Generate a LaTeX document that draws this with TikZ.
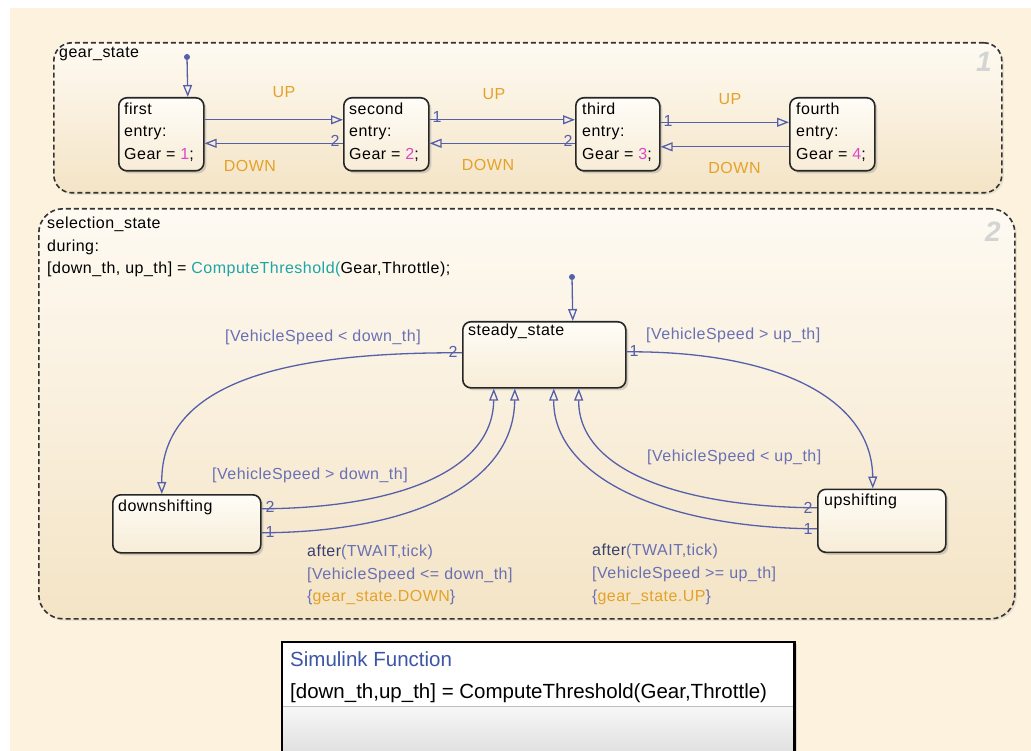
\documentclass[tikz,border=0pt]{standalone}
\usepackage{fontspec}
\setmainfont{Liberation Sans}
\newfontfamily\chf[LetterSpace=3]{Liberation Sans}
\usetikzlibrary{arrows.meta,shadows}
\definecolor{bgc}{RGB}{253,242,222}
\definecolor{trc}{RGB}{85,95,170}
\definecolor{lblc}{RGB}{105,112,180}
\definecolor{updn}{RGB}{228,162,40}
\definecolor{magc}{RGB}{222,70,200}
\definecolor{tealc}{RGB}{30,165,165}
\definecolor{afterc}{RGB}{55,65,110}
\definecolor{simblue}{RGB}{60,85,165}
\definecolor{outTop}{RGB}{254,250,242}
\definecolor{outBot}{RGB}{244,228,198}
\definecolor{stTop}{RGB}{255,253,248}
\definecolor{stBot}{RGB}{247,236,214}
\begin{document}
\begin{tikzpicture}[x=1pt,y=-1pt,
  txt/.style={inner sep=0pt, anchor=base west, font=\chf\fontsize{16}{20}\selectfont},
  ctxt/.style={txt, anchor=base},
  num/.style={inner sep=0pt, anchor=center, text=trc, font=\chf\fontsize{16}{18}\selectfont},
  bignum/.style={inner sep=0pt, anchor=base west, text=black!17, font=\fontsize{28}{30}\selectfont\bfseries\itshape},
  outer/.style={draw=black!80, dash pattern=on 5pt off 3pt, line width=1.6pt, top color=outTop, bottom color=outBot, anchor=north west, inner sep=0pt, rectangle,
    drop shadow={shadow xshift=2pt, shadow yshift=-2pt, opacity=0.15}},
  statebox/.style={draw=black!85, line width=1.6pt, rounded corners=8pt, top color=stTop, bottom color=stBot, anchor=north west, inner sep=0pt, rectangle,
    drop shadow={shadow xshift=2.5pt, shadow yshift=-2.5pt, opacity=0.3}},
  tr/.style={draw=trc, line width=1.3pt, -{Triangle[open, length=12pt, width=9pt, line width=1.3pt]}},
  dot/.style={circle, fill=trc, inner sep=0pt, minimum size=6pt}
]
\useasboundingbox (0,0) rectangle (1031,751);
\fill[white] (0,0) rectangle (1031,751);
\fill[bgc] (10,8) rectangle (1031,751);

% ---------- gear_state ----------
\node[outer, rounded corners=18pt, minimum width=948pt, minimum height=150pt] (gear) at (53,42) {};
\node[txt] (gearT) at (59,58) {gear\_state};
\node[bignum] (gearN) at (976,72) {1};

\node[statebox, minimum width=85pt, minimum height=73pt] (first) at (118,97) {};
\node[statebox, minimum width=85pt, minimum height=73pt] (second) at (343,97) {};
\node[statebox, minimum width=84pt, minimum height=73pt] (third) at (575,97) {};
\node[statebox, minimum width=85pt, minimum height=73pt] (fourth) at (789,97) {};

\node[txt] (firstA) at (124,115) {first};
\node[txt] (firstB) at (124,137) {entry:};
\node[txt] (firstC) at (124,160) {Gear = {\color{magc}1};};
\node[txt] (secondA) at (349,115) {second};
\node[txt] (secondB) at (349,137) {entry:};
\node[txt] (secondC) at (349,160) {Gear = {\color{magc}2};};
\node[txt] (thirdA) at (582,115) {third};
\node[txt] (thirdB) at (582,137) {entry:};
\node[txt] (thirdC) at (582,160) {Gear = {\color{magc}3};};
\node[txt] (fourthA) at (796,115) {fourth};
\node[txt] (fourthB) at (796,137) {entry:};
\node[txt] (fourthC) at (796,160) {Gear = {\color{magc}4};};

\node[dot] (gInit) at (187,57) {};
\draw[tr] (gInit) -- ([xshift=26.5pt]first.north);

\draw[tr] ([yshift=14.5pt]first.east) -- ([yshift=14.5pt]second.west);
\draw[tr] ([yshift=-9pt]second.west) -- ([yshift=-9pt]first.east);
\draw[tr] ([yshift=14.5pt]second.east) -- ([yshift=14.5pt]third.west);
\draw[tr] ([yshift=-9pt]third.west) -- ([yshift=-9pt]second.east);
\draw[tr] ([yshift=12pt]third.east) -- ([yshift=12pt]fourth.west);
\draw[tr] ([yshift=-12.5pt]fourth.west) -- ([yshift=-12.5pt]third.east);

\node[num] (n1) at (437,117) {1};
\node[num] (n2) at (335,141) {2};
\node[num] (n3) at (568,141) {2};
\node[num] (n4) at (668,121) {1};

\node[ctxt, text=updn] (up1) at (284,98) {UP};
\node[ctxt, text=updn] (up2) at (494,100) {UP};
\node[ctxt, text=updn] (up3) at (730,105) {UP};
\node[ctxt, text=updn] (dn1) at (250,171.5) {DOWN};
\node[ctxt, text=updn] (dn2) at (488,170.5) {DOWN};
\node[ctxt, text=updn] (dn3) at (734.5,174) {DOWN};

% ---------- selection_state ----------
\node[outer, rounded corners=24pt, minimum width=976pt, minimum height=410pt] (sel) at (38,208) {};
\node[bignum] (selN) at (985,242) {2};
\node[txt] (selA) at (47,229) {selection\_state};
\node[txt] (selB) at (47,251.5) {during:};
\node[txt] (selC) at (47,274) {[down\_th, up\_th] = {\color{tealc}ComputeThreshold(}Gear,Throttle);};

\node[statebox, minimum width=163pt, minimum height=66pt] (steady) at (462,321) {};
\node[statebox, minimum width=148pt, minimum height=58pt] (down) at (112,494) {};
\node[statebox, minimum width=128pt, minimum height=63pt] (up) at (817,488.5) {};
\node[txt] (steadyT) at (468,336) {steady\_state};
\node[txt] (downT) at (118,511.5) {downshifting};
\node[txt] (upT) at (824,505) {upshifting};

\node[dot] (sInit) at (572,277) {};
\draw[tr] (sInit) -- ([xshift=28.5pt]steady.north);

\draw[tr] ([yshift=2pt]steady.west) .. controls (290,352) and (161,380) .. ([xshift=-25pt]down.north);
\draw[tr] ([yshift=3pt]steady.east) .. controls (780,351) and (872,400) .. ([xshift=-9pt]up.north);
\draw[tr] ([yshift=15pt]down.east) .. controls (400,508) and (493,470) .. ([xshift=-50.5pt]steady.south);
\draw[tr] ([yshift=-9pt]down.east) .. controls (420,532) and (514,480) .. ([xshift=-29.5pt]steady.south);
\draw[tr] ([yshift=13pt]up.west) .. controls (680,507) and (578,470) .. ([xshift=34.5pt]steady.south);
\draw[tr] ([yshift=-8pt]up.west) .. controls (660,528) and (553,475) .. ([xshift=9.5pt]steady.south);

\node[num] (m1) at (453,352) {2};
\node[num] (m2) at (634,351) {1};
\node[num] (m3) at (270,507) {2};
\node[num] (m4) at (270,532) {1};
\node[num] (m5) at (808,508) {2};
\node[num] (m6) at (808,529) {1};

\node[txt, text=lblc] (lbA) at (225,341.5) {[VehicleSpeed < down\_th]};
\node[txt, text=lblc] (lbB) at (646,340) {[VehicleSpeed > up\_th]};
\node[txt, text=lblc] (lbC) at (212,479) {[VehicleSpeed > down\_th]};
\node[txt, text=lblc] (lbD) at (647,461) {[VehicleSpeed < up\_th]};
\node[txt, text=lblc] (lbE1) at (307,556) {{\color{afterc}after}(TWAIT,tick)};
\node[txt, text=lblc] (lbE2) at (307,579) {[VehicleSpeed <= down\_th]};
\node[txt, text=lblc] (lbE3) at (307,601) {\{{\color{updn}gear\_state.DOWN}\}};
\node[txt, text=lblc] (lbF1) at (592,555.5) {{\color{afterc}after}(TWAIT,tick)};
\node[txt, text=lblc] (lbF2) at (592,578.5) {[VehicleSpeed >= up\_th]};
\node[txt, text=lblc] (lbF3) at (592,601.5) {\{{\color{updn}gear\_state.UP}\}};

% ---------- Simulink Function ----------
\node[fill=white, anchor=north west, inner sep=0pt, rectangle, minimum width=512pt, minimum height=130pt,
  drop shadow={shadow xshift=3pt, shadow yshift=-2pt, opacity=0.25}] (sim) at (282,642) {};
\fill[top color=black!3, bottom color=black!16] ([yshift=-64pt]sim.north west) rectangle (sim.south east);
\draw[black!25, line width=0.8pt] ([yshift=-64pt]sim.north west) -- ([yshift=-64pt]sim.north east);
\draw[black, line width=2.6pt] (sim.north west) rectangle (sim.south east);
\node[inner sep=0pt, anchor=base west, text=simblue, font=\fontsize{20.5}{24}\selectfont] (simA) at (290,666) {Simulink Function};
\node[inner sep=0pt, anchor=base west, font=\fontsize{20.5}{24}\selectfont] (simB) at (290,698.5) {[down\_th,up\_th] = ComputeThreshold(Gear,Throttle)};
\end{tikzpicture}
\end{document}
